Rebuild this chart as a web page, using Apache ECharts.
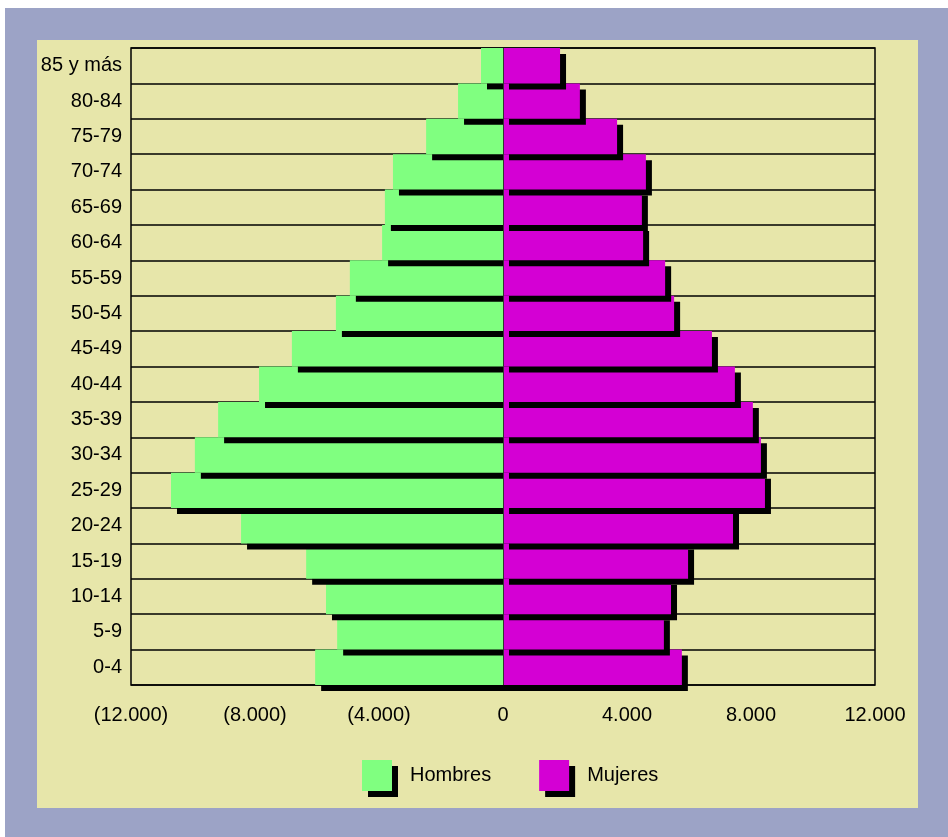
<!DOCTYPE html>
<html>
<head>
<meta charset="utf-8">
<script src="https://cdn.jsdelivr.net/npm/echarts@6/dist/echarts.min.js"></script>
<style>
  html, body { margin: 0; padding: 0; background: #ffffff; width: 948px; height: 837px; overflow: hidden; }
  #outer { position: absolute; left: 5px; top: 8px; width: 943px; height: 829px; background: #9ca3c6; }
  #chart { position: absolute; left: 37px; top: 40px; width: 881px; height: 768px; background: #e7e6aa; }
</style>
</head>
<body>
<div id="outer"></div>
<div id="chart"></div>
<script>
const categories = ['0-4','5-9','10-14','15-19','20-24','25-29','30-34','35-39','40-44','45-49','50-54','55-59','60-64','65-69','70-74','75-79','80-84','85 y más'];
const hombres = [6060, 5350, 5710, 6350, 8450, 10710, 9940, 9190, 7870, 6810, 5390, 4940, 3900, 3810, 3550, 2480, 1450, 710];
const mujeres = [5770, 5190, 5420, 5970, 7420, 8450, 8320, 8060, 7480, 6740, 5520, 5230, 4520, 4480, 4610, 3680, 2480, 1840];
const xTicks = { min: -12000, max: 12000, interval: 4000 };

function fmt(v) {
  const s = Math.abs(v).toLocaleString('de-DE');
  return v < 0 ? '(' + s + ')' : s;
}

const shadow = { shadowColor: '#000000', shadowBlur: 0, shadowOffsetX: 6, shadowOffsetY: 6 };
const font = 'Liberation Sans, Arial, sans-serif';

const chart = echarts.init(document.getElementById('chart'), null, { renderer: 'canvas' });
chart.setOption({
  animation: false,
  backgroundColor: 'transparent',
  grid: { left: 94, top: 8, right: 43, bottom: 123, show: true, borderColor: '#000', borderWidth: 1.5, backgroundColor: 'transparent' },
  xAxis: {
    type: 'value', min: xTicks.min, max: xTicks.max, interval: xTicks.interval,
    axisLine: { show: false }, axisTick: { show: false }, splitLine: { show: false },
    axisLabel: { formatter: fmt, color: '#000', fontSize: 20, fontFamily: font, margin: 20 }
  },
  yAxis: {
    type: 'category', data: categories,
    axisLine: { show: false }, axisTick: { show: false },
    splitLine: { show: true, lineStyle: { color: '#000', width: 1.5 } },
    axisLabel: { color: '#000', fontSize: 20, fontFamily: font, margin: 9 }
  },
  legend: {
    left: 320, top: 715, itemWidth: 30, itemHeight: 31, itemGap: 48, icon: 'rect',
    data: ['Hombres', 'Mujeres'],
    itemStyle: Object.assign({}, shadow),
    textStyle: { color: '#000', fontSize: 20, fontFamily: font, padding: [0, 0, 0, 13] }
  },
  series: [
    {
      name: 'Hombres', type: 'bar', stack: 'p', barCategoryGap: 0,
      data: hombres.map(v => -v),
      itemStyle: Object.assign({ color: '#80ff80' }, shadow)
    },
    {
      name: 'Mujeres', type: 'bar', stack: 'p', barCategoryGap: 0,
      data: mujeres,
      itemStyle: Object.assign({ color: '#d400d4' }, shadow),
      markLine: {
        silent: true, symbol: 'none', label: { show: false },
        lineStyle: { color: '#333', width: 1, type: 'solid' },
        data: [{ xAxis: 0 }]
      }
    }
  ]
});
</script>
</body>
</html>
